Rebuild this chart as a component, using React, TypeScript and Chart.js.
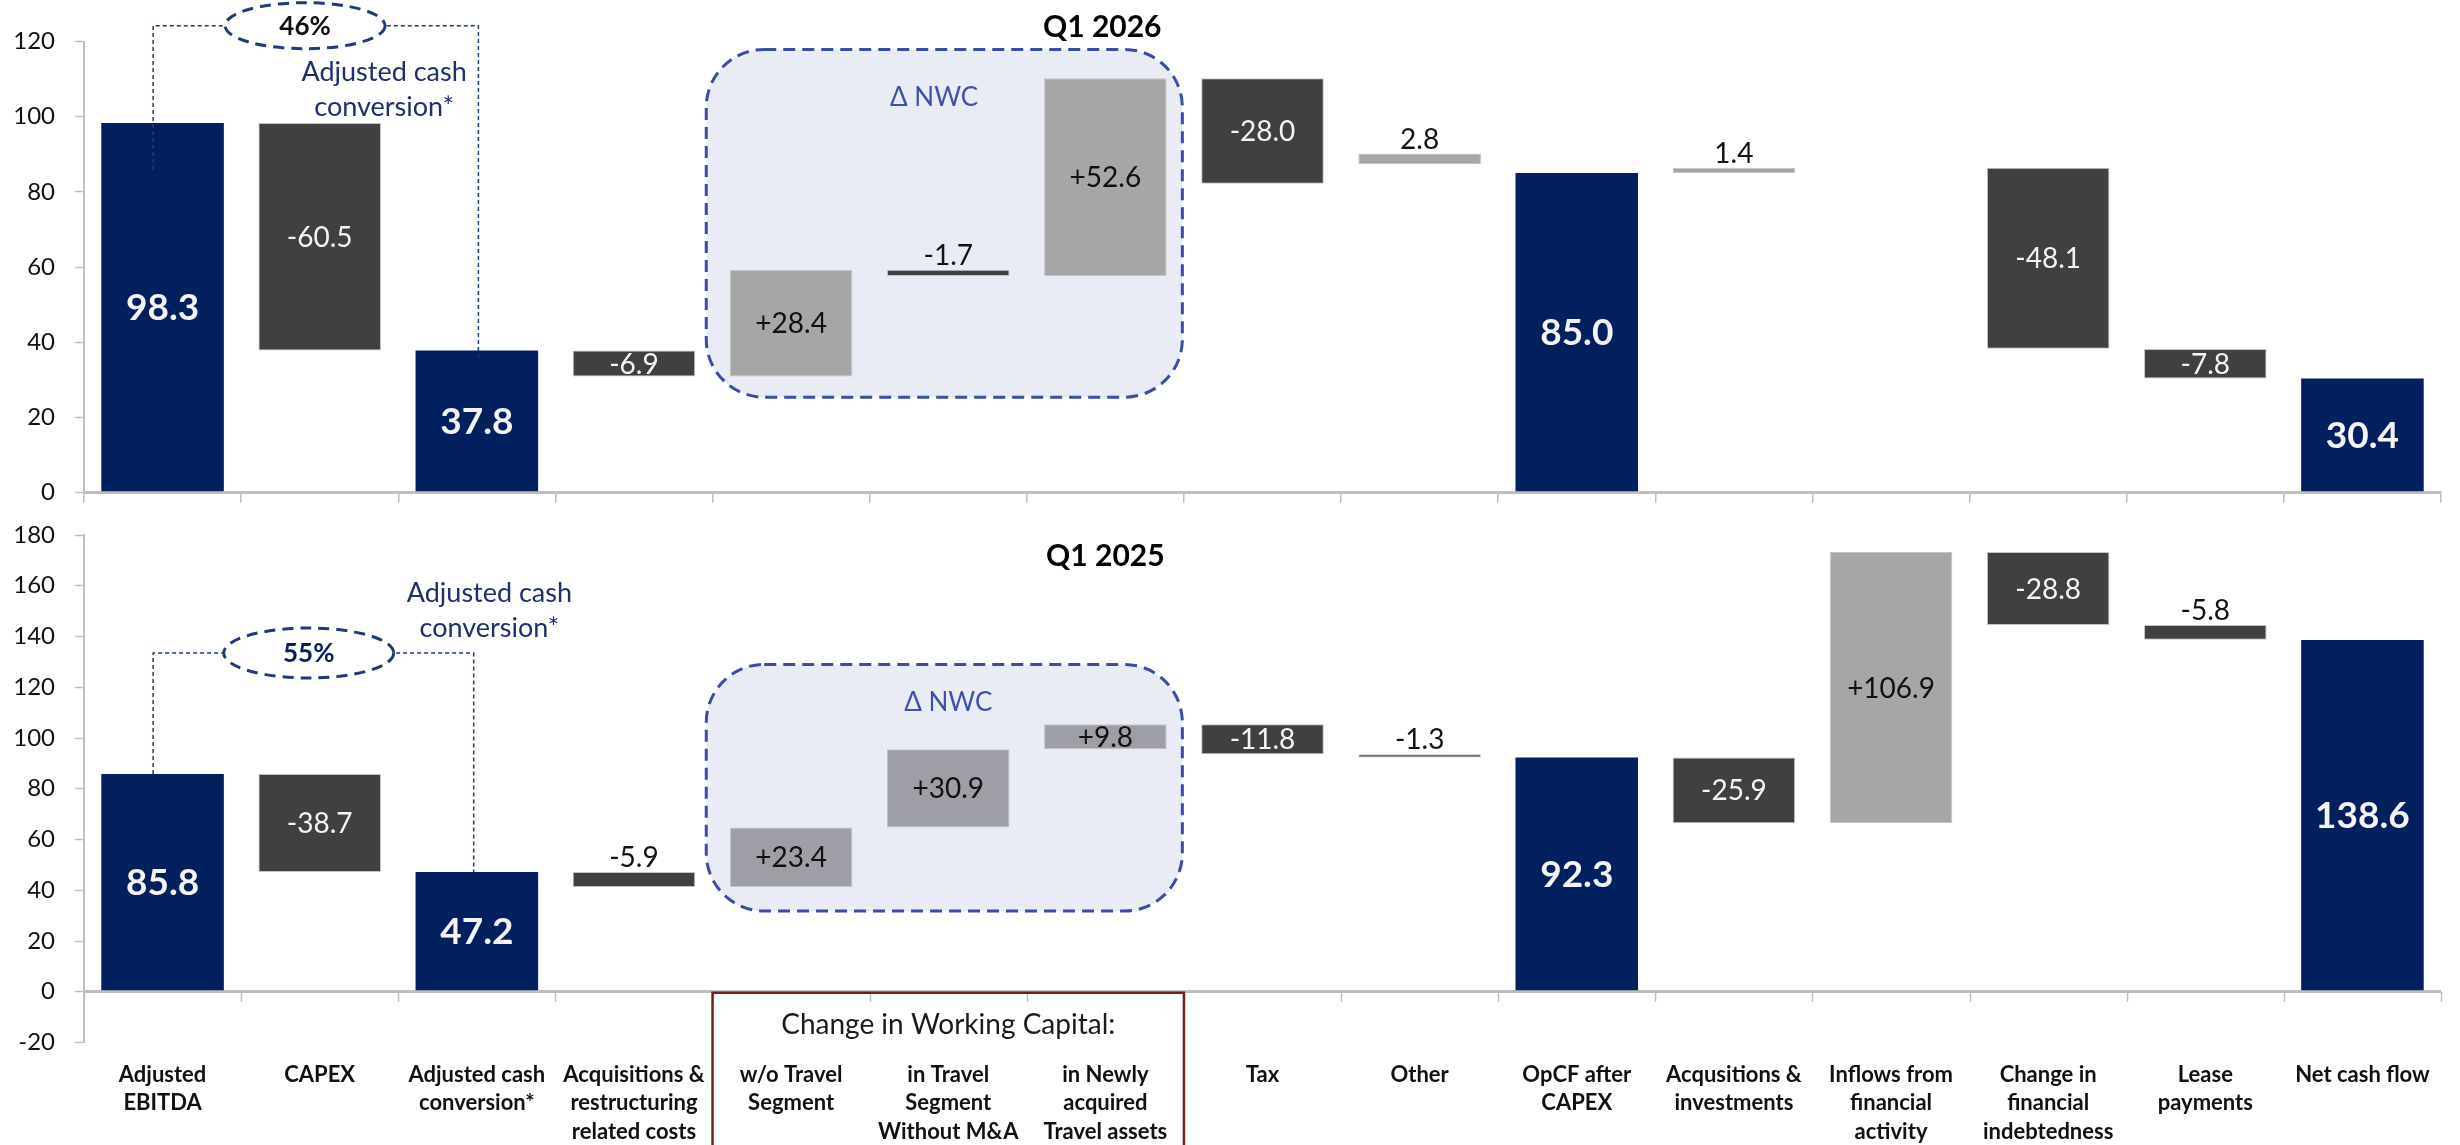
import React, { useEffect, useRef } from "react";
import { Chart, registerables } from "chart.js";

Chart.register(...registerables);

// ---------------- DATA ----------------
const categories: string[][] = [
  ["Adjusted", "EBITDA"],
  ["CAPEX"],
  ["Adjusted cash", "conversion*"],
  ["Acquisitions &", "restructuring", "related costs"],
  ["w/o Travel", "Segment"],
  ["in Travel", "Segment", "Without M&A"],
  ["in Newly", "acquired", "Travel assets"],
  ["Tax"],
  ["Other"],
  ["OpCF after", "CAPEX"],
  ["Acqusitions &", "investments"],
  ["Inflows from", "financial", "activity"],
  ["Change in", "financial", "indebtedness"],
  ["Lease", "payments"],
  ["Net cash flow"],
];

// Q1 2026 (top chart): floating bar bounds
const q2026Low: (number | null)[] = [0, 37.8, 0, 30.9, 30.9, 57.6, 57.6, 82.2, 87.4, 0, 85.0, null, 38.3, 30.4, 0];
const q2026High: (number | null)[] = [98.3, 98.3, 37.8, 37.8, 59.3, 59.3, 110.2, 110.2, 90.2, 85.0, 86.4, null, 86.4, 38.2, 30.4];
const q2026Labels: string[] = ["98.3", "-60.5", "37.8", "-6.9", "+28.4", "-1.7", "+52.6", "-28.0", "2.8", "85.0", "1.4", "", "-48.1", "-7.8", "30.4"];
const q2026Kinds: string[] = ["total", "neg", "total", "neg", "pos", "neg", "pos", "neg", "pos", "total", "pos", "none", "neg", "neg", "total"];

// Q1 2025 (bottom chart)
const q2025Low: (number | null)[] = [0, 47.2, 0, 41.3, 41.3, 64.7, 95.6, 93.6, 92.3, 0, 66.4, 66.4, 144.5, 138.7, 0];
const q2025High: (number | null)[] = [85.8, 85.8, 47.2, 47.2, 64.7, 95.6, 105.4, 105.4, 93.6, 92.3, 92.3, 173.3, 173.3, 144.5, 138.6];
const q2025Labels: string[] = ["85.8", "-38.7", "47.2", "-5.9", "+23.4", "+30.9", "+9.8", "-11.8", "-1.3", "92.3", "-25.9", "+106.9", "-28.8", "-5.8", "138.6"];
const q2025Kinds: string[] = ["total", "neg", "total", "neg", "nwc", "nwc", "nwc", "neg", "neg", "total", "neg", "pos", "neg", "neg", "total"];

const yTicks2026 = [0, 20, 40, 60, 80, 100, 120];
const yTicks2025 = [-20, 0, 20, 40, 60, 80, 100, 120, 140, 160, 180];

const title2026 = "Q1 2026";
const title2025 = "Q1 2025";
const conversion2026 = "46%";
const conversion2025 = "55%";
const conversionNote = ["Adjusted cash", "conversion*"];
const nwcNote = "\u0394 NWC";
const wcHeader = "Change in Working Capital:";

// ---------------- STYLE ----------------
const FONT = "Lato, 'Open Sans', sans-serif";
const GRID = "#BFBFBF";
const NAVY = "#03205E";
const COLORS: Record<string, string> = {
  total: "#03205E",
  neg: "#404040",
  pos: "#A6A6A6",
  nwc: "#9E9EA7",
  none: "rgba(0,0,0,0)",
};

type Deco = {
  title: string; titleX: number; titleY: number;
  bracketY: number; leftX: number; leftBottom: number; rightX: number; rightBottom: number;
  ellX: number; ellRx: number; ellRy: number; pct: string; pctColor: string;
  noteX: number; noteY: number;
  boxX1: number; boxX2: number; boxTop: number; boxBottom: number;
  nwcX: number; nwcY: number;
  wcBox: boolean;
};

const deco2026: Deco = {
  title: title2026, titleX: 5.98, titleY: 123.9,
  bracketY: 124.2, leftX: -0.06, leftBottom: 85.8, rightX: 2.01, rightBottom: 36,
  ellX: 0.907, ellRx: 80, ellRy: 23, pct: conversion2026, pctColor: "#111",
  noteX: 1.41, noteY: 107.2,
  boxX1: 3.46, boxX2: 6.49, boxTop: 117.9, boxBottom: 25.4,
  nwcX: 4.91, nwcY: 105,
  wcBox: false,
};

const deco2025: Deco = {
  title: title2025, titleX: 6.0, titleY: 171.4,
  bracketY: 133.5, leftX: -0.06, leftBottom: 85.8, rightX: 1.98, rightBottom: 47.2,
  ellX: 0.93, ellRx: 85, ellRy: 25, pct: conversion2025, pctColor: NAVY,
  noteX: 2.08, noteY: 150.2,
  boxX1: 3.46, boxX2: 6.49, boxTop: 129, boxBottom: 31.8,
  nwcX: 5.0, nwcY: 113.8,
  wcBox: true,
};

function roundRectPath(ctx: CanvasRenderingContext2D, x: number, y: number, w: number, h: number, r: number) {
  ctx.beginPath();
  ctx.moveTo(x + r, y);
  ctx.lineTo(x + w - r, y);
  ctx.arcTo(x + w, y, x + w, y + r, r);
  ctx.lineTo(x + w, y + h - r);
  ctx.arcTo(x + w, y + h, x + w - r, y + h, r);
  ctx.lineTo(x + r, y + h);
  ctx.arcTo(x, y + h, x, y + h - r, r);
  ctx.lineTo(x, y + r);
  ctx.arcTo(x, y, x + r, y, r);
  ctx.closePath();
}

function makeDecoPlugin(d: Deco) {
  return {
    id: "deco",
    beforeDatasetsDraw(chart: any) {
      const { ctx, scales } = chart;
      const xs = scales.x, ys = scales.y;
      const x1 = xs.getPixelForValue(d.boxX1), x2 = xs.getPixelForValue(d.boxX2);
      const y1 = ys.getPixelForValue(d.boxTop), y2 = ys.getPixelForValue(d.boxBottom);
      ctx.save();
      roundRectPath(ctx, x1, y1, x2 - x1, y2 - y1, 58);
      ctx.fillStyle = "#E9ECF5";
      ctx.fill();
      ctx.setLineDash([12, 7]);
      ctx.lineWidth = 3;
      ctx.strokeStyle = "#3A4CA8";
      ctx.stroke();
      ctx.setLineDash([]);
      ctx.fillStyle = "#3F4FB0";
      ctx.font = `26px ${FONT}`;
      ctx.textAlign = "center";
      ctx.textBaseline = "middle";
      ctx.fillText(nwcNote, xs.getPixelForValue(d.nwcX), ys.getPixelForValue(d.nwcY));
      ctx.restore();
    },
    afterDatasetsDraw(chart: any) {
      const { ctx, scales } = chart;
      const xs = scales.x, ys = scales.y;
      ctx.save();
      // bracket
      const by = ys.getPixelForValue(d.bracketY);
      const lx = xs.getPixelForValue(d.leftX), rx = xs.getPixelForValue(d.rightX);
      ctx.strokeStyle = "#1F3A7A";
      ctx.lineWidth = 1.5;
      ctx.setLineDash([4, 3]);
      ctx.beginPath();
      ctx.moveTo(lx, ys.getPixelForValue(d.leftBottom));
      ctx.lineTo(lx, by);
      ctx.lineTo(rx, by);
      ctx.lineTo(rx, ys.getPixelForValue(d.rightBottom));
      ctx.stroke();
      // ellipse
      const ex = xs.getPixelForValue(d.ellX);
      ctx.beginPath();
      ctx.ellipse(ex, by, d.ellRx, d.ellRy, 0, 0, Math.PI * 2);
      ctx.setLineDash([]);
      ctx.fillStyle = "#FFFFFF";
      ctx.fill();
      ctx.setLineDash([11, 7]);
      ctx.lineWidth = 3;
      ctx.strokeStyle = "#1F3A7A";
      ctx.stroke();
      ctx.setLineDash([]);
      ctx.fillStyle = d.pctColor;
      ctx.font = `bold 26px ${FONT}`;
      ctx.textAlign = "center";
      ctx.textBaseline = "middle";
      ctx.fillText(d.pct, ex, by + 1);
      // note
      ctx.fillStyle = "#1F2F6E";
      ctx.font = `27px ${FONT}`;
      const nx = xs.getPixelForValue(d.noteX);
      const ny = ys.getPixelForValue(d.noteY);
      ctx.fillText(conversionNote[0], nx, ny - 17);
      ctx.fillText(conversionNote[1], nx, ny + 18);
      // title
      ctx.fillStyle = "#000";
      ctx.font = `bold 30px ${FONT}`;
      ctx.fillText(d.title, xs.getPixelForValue(d.titleX), ys.getPixelForValue(d.titleY));
      ctx.restore();
    },
    afterDraw(chart: any) {
      if (!d.wcBox) return;
      const { ctx, scales } = chart;
      const xs = scales.x, ys = scales.y;
      const y0 = ys.getPixelForValue(0);
      ctx.save();
      // tick marks along zero line
      ctx.strokeStyle = GRID;
      ctx.lineWidth = 1.5;
      for (let i = 0; i <= categories.length; i++) {
        const px = Math.round(xs.getPixelForValue(i - 0.5)) + 0.5;
        ctx.beginPath();
        ctx.moveTo(px, y0);
        ctx.lineTo(px, y0 + 10);
        ctx.stroke();
      }
      const x1 = xs.getPixelForValue(3.5), x2 = xs.getPixelForValue(6.5);
      ctx.strokeStyle = "#7B1C1C";
      ctx.lineWidth = 2.5;
      ctx.strokeRect(x1, y0 + 1, x2 - x1, chart.height);
      ctx.fillStyle = "#1a1a1a";
      ctx.font = `28px ${FONT}`;
      ctx.textAlign = "center";
      ctx.textBaseline = "middle";
      ctx.fillText(wcHeader, xs.getPixelForValue(5), ys.getPixelForValue(-13.2));
      ctx.restore();
    },
  };
}

function makeLabelPlugin(labels: string[], kinds: string[]) {
  return {
    id: "barLabels",
    afterDatasetsDraw(chart: any) {
      const ctx = chart.ctx;
      const meta = chart.getDatasetMeta(0);
      meta.data.forEach((el: any, i: number) => {
        const txt = labels[i];
        if (!txt) return;
        const p = el.getProps(["x", "y", "base"], true);
        if (!isFinite(p.y) || !isFinite(p.base)) return;
        const top = Math.min(p.y, p.base);
        const bot = Math.max(p.y, p.base);
        const k = kinds[i];
        ctx.save();
        ctx.textAlign = "center";
        if (bot - top >= 20) {
          ctx.textBaseline = "middle";
          ctx.fillStyle = k === "pos" || k === "nwc" ? "#111" : "#F4F4F4";
          ctx.font = k === "total" ? `bold 37px ${FONT}` : `28px ${FONT}`;
          ctx.fillText(txt, p.x, (top + bot) / 2 + 1);
        } else {
          ctx.textBaseline = "alphabetic";
          ctx.fillStyle = "#111";
          ctx.font = `28px ${FONT}`;
          ctx.fillText(txt, p.x, top - 5);
        }
        ctx.restore();
      });
    },
  };
}

function buildConfig(
  low: (number | null)[], high: (number | null)[], labels: string[], kinds: string[],
  ticks: number[], deco: Deco, bottomChart: boolean, axisHeight: number, padTop: number
): any {
  const data = low.map((l, i) => (l === null || high[i] === null ? null : [l, high[i]]));
  const yMin = ticks[0], yMax = ticks[ticks.length - 1];
  return {
    type: "bar",
    data: {
      labels: categories,
      datasets: [
        {
          data,
          backgroundColor: kinds.map((k) => COLORS[k]),
          borderColor: kinds.map((k) => (k === "total" ? COLORS.total : "#C4C4C4")),
          borderWidth: kinds.map((k) => (k === "total" ? 0 : 1)),
          borderSkipped: false,
          barPercentage: 0.78,
          categoryPercentage: 1.0,
        },
      ],
    },
    options: {
      responsive: false,
      maintainAspectRatio: false,
      animation: false,
      events: [],
      layout: { padding: { top: padTop, right: 19, left: 0, bottom: 0 } },
      plugins: { legend: { display: false }, tooltip: { enabled: false }, title: { display: false } },
      scales: {
        x: {
          type: "category",
          offset: true,
          grid: bottomChart
            ? { display: false, drawTicks: false }
            : { display: true, drawOnChartArea: false, drawTicks: true, tickLength: 10, color: GRID, lineWidth: 1.5, offset: true },
          border: bottomChart ? { display: false } : { display: true, color: GRID, width: 3 },
          ticks: bottomChart
            ? {
                display: true,
                autoSkip: false,
                maxRotation: 0,
                minRotation: 0,
                padding: 18,
                color: "#111",
                font: { family: FONT, size: 22, weight: "bold", lineHeight: 1.3 },
              }
            : { display: false },
          afterFit: (s: any) => {
            s.height = axisHeight;
          },
        },
        y: {
          min: yMin,
          max: yMax,
          afterBuildTicks: (s: any) => {
            s.ticks = ticks.map((v) => ({ value: v }));
          },
          ticks: {
            color: "#111",
            padding: 20,
            font: { family: FONT, size: 24 },
          },
          grid: {
            drawOnChartArea: bottomChart,
            drawTicks: true,
            tickLength: 9,
            tickColor: GRID,
            tickWidth: 1.5,
            color: (c: any) => (c.tick && c.tick.value === 0 ? GRID : "rgba(0,0,0,0)"),
            lineWidth: (c: any) => (c.tick && c.tick.value === 0 ? 3 : 1),
          },
          border: { display: true, color: GRID, width: 2 },
          afterFit: (s: any) => {
            s.width = 84;
          },
        },
      },
    },
    plugins: [makeDecoPlugin(deco), makeLabelPlugin(labels, kinds)],
  };
}

const W = 2460;
const H = 1145;
const TOP_H = 530;        // top canvas height
const BOT_TOP = 500;      // bottom canvas offset
const BOT_H = H - BOT_TOP;

export default function App() {
  const topRef = useRef<HTMLCanvasElement | null>(null);
  const botRef = useRef<HTMLCanvasElement | null>(null);

  useEffect(() => {
    Chart.defaults.font.family = FONT;
    const c1 = new Chart(
      topRef.current as HTMLCanvasElement,
      buildConfig(q2026Low, q2026High, q2026Labels, q2026Kinds, yTicks2026, deco2026, false, TOP_H - 492.7, 41.5)
    );
    const c2 = new Chart(
      botRef.current as HTMLCanvasElement,
      buildConfig(q2025Low, q2025High, q2025Labels, q2025Kinds, yTicks2025, deco2025, true, BOT_H - (1042.5 - BOT_TOP), 535 - BOT_TOP)
    );
    return () => {
      c1.destroy();
      c2.destroy();
    };
  }, []);

  return (
    <div style={{ position: "fixed", left: 0, top: 0, width: W, height: H, background: "#fff", overflow: "hidden" }}>
      <canvas ref={topRef} width={W} height={TOP_H} style={{ position: "absolute", left: 0, top: 0, width: W, height: TOP_H }} />
      <canvas ref={botRef} width={W} height={BOT_H} style={{ position: "absolute", left: 0, top: BOT_TOP, width: W, height: BOT_H }} />
    </div>
  );
}
